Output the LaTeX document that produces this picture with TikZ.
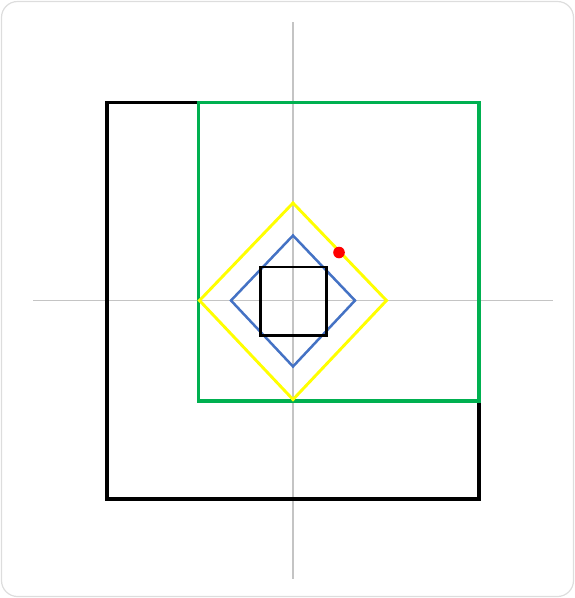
\documentclass[tikz,border=0pt]{standalone}
\usepackage{xcolor}
\usepackage{tikz}

\definecolor{frameGrey}{HTML}{DDDDDD}
\definecolor{axisGrey}{HTML}{C4C4C4}
\definecolor{boxGreen}{HTML}{00B050}
\definecolor{diamondBlue}{HTML}{4472C4}
\definecolor{diamondYellow}{HTML}{FFFF00}

\tikzset{
	axis line/.style={draw=axisGrey, line width=1.2pt},
	outer box/.style={draw=black, line width=3.1pt},
	green box/.style={draw=boxGreen, line width=3.1pt},
	yellow diamond/.style={draw=diamondYellow, line width=2.9pt},
	blue diamond/.style={draw=diamondBlue, line width=2.5pt},
	inner box/.style={draw=black, line width=2.9pt},
}

\begin{document}
\begin{tikzpicture}[x=1pt, y=-1pt]
	% Define the frame
	\useasboundingbox (0, 0) rectangle (575, 598);
	\draw[frameGrey, line width=1.2pt, rounded corners=16pt] (1.5, 1.5) rectangle (573.5, 596.5);

	% Axes through the origin
	\coordinate (o) at (293, 300.5);
	\coordinate (xl) at (33, 300.5);
	\coordinate (xr) at (553, 300.5);
	\coordinate (yt) at (293, 22);
	\coordinate (yb) at (293, 579);
	\draw[axis line] (xl) -- (xr);
	\draw[axis line] (yt) -- (yb);

	% Rectangles
	\draw[outer box] (107, 102.5) rectangle (479, 499);
	\draw[green box] (198.5, 102.5) rectangle (479, 401);

	% Diamonds around the origin
	\draw[yellow diamond] (293, 203) -- (386.5, 300.5) -- (293, 399.5) -- (199.5, 300.5) -- cycle;
	\draw[blue diamond] (293, 235.5) -- (355, 300.5) -- (293, 366.5) -- (231, 300.5) -- cycle;

	% Inner square
	\draw[inner box] (260.5, 267) rectangle (326.5, 335.5);

	% Point
	\fill[red] (339, 252.5) circle (5.8pt);
\end{tikzpicture}
\end{document}
